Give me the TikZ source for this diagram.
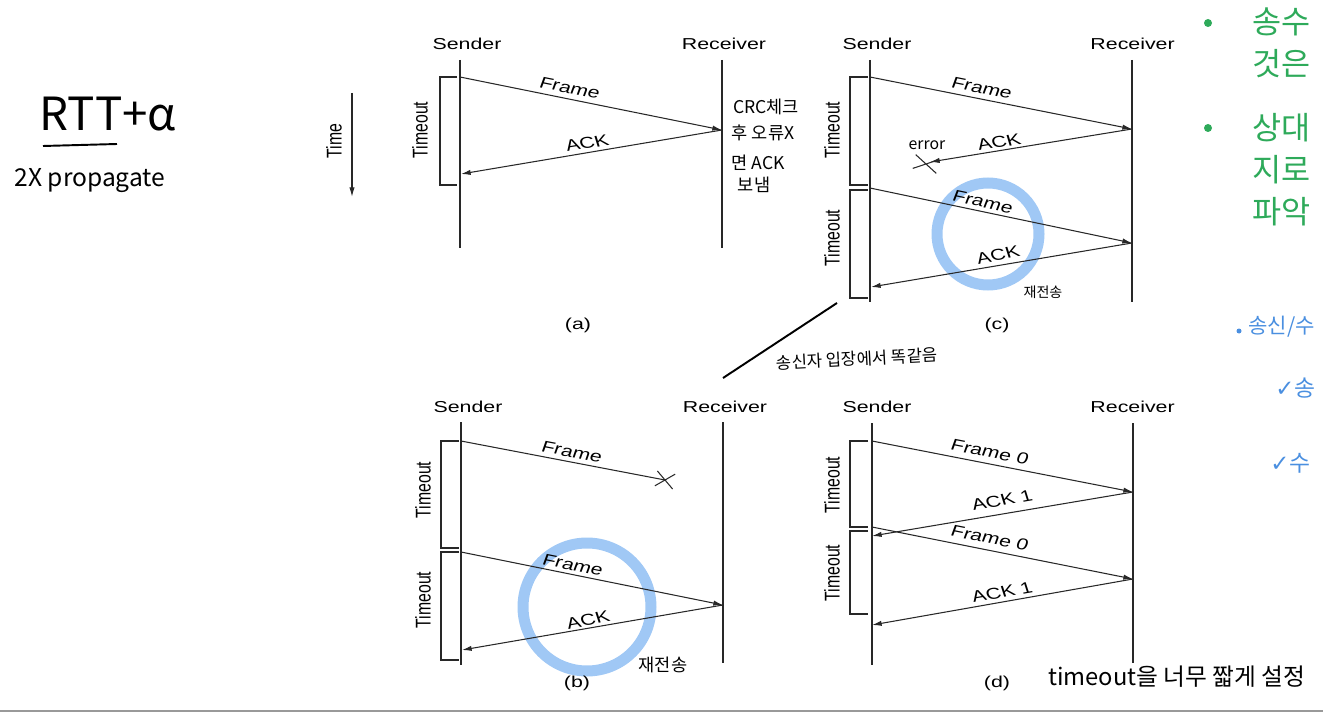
\documentclass[tikz,border=0pt]{standalone}
\usepackage{fontspec}
\setmainfont{Liberation Sans}
\newfontfamily\hwfont{Noto Sans CJK KR}
\newfontfamily\symfont{DejaVu Sans}
\usepackage{tikz}
\usetikzlibrary{arrows.meta, shapes.misc}
\definecolor{ringblue}{RGB}{160,200,245}
\definecolor{notegreen}{RGB}{46,170,90}
\definecolor{penblue}{RGB}{74,143,224}
\definecolor{inkgray}{RGB}{40,40,40}

\begin{document}
\begin{tikzpicture}[
    x=0.02cm, y=-0.02cm,
    who/.style={font=\fontsize{9}{10}\selectfont, xscale=1.35, inner sep=0pt},
    tout/.style={font=\fontsize{9}{10}\selectfont, xscale=1.35, rotate=90, inner sep=0pt},
    lbl/.style={font=\fontsize{9}{10}\selectfont, xscale=1.35, inner sep=0pt},
    life/.style={inkgray, line width=0.6pt},
    brk/.style={inkgray, line width=0.6pt},
    msg/.style={-{Latex[length=5.5pt,width=3pt]}, inkgray, line width=0.6pt},
    lost/.style={inkgray, line width=0.6pt},
    xmark/.style={cross out, draw=inkgray, line width=0.6pt, inner sep=0pt},
    ring/.style={ringblue, line width=0.22cm},
    pen/.style={font=\hwfont\fontsize{#1}{#1}\selectfont, inner sep=0pt},
    pen/.default=11
]
    \useasboundingbox (0,0) rectangle (1323,713);
    \clip (0,0) rectangle (1323,713);
    % blue rings (under the diagrams)
    \draw[ring] (988,234) circle [radius=51];
    \draw[ring] (587,607) circle [radius=64];
    % handwritten notes, left
    \node[pen=26] (rtt) at (108,114) {RTT+α};
    \draw[line width=1.1pt] (43,146) -- (117,144);
    \node[pen=14] (prop) at (90,181) {2X propagate};
    % Time axis
    \coordinate (t0) at (352,93);
    \coordinate (t1) at (352,197);
    \draw[msg] (t0) -- (t1);
    \node[lbl, rotate=90] (time) at (334,141) {Time};
    % Panel (a)
    \node[who] (aS) at (467,44) {Sender};
    \node[who] (aR) at (724,44) {Receiver};
    \draw[life] (460,60) -- (460,248);
    \draw[life] (722,60) -- (722,248);
    \draw[brk] (457,77) -- (440,77) -- (440,185) -- (457,185);
    \node[tout] (aT) at (420,130) {Timeout};
    \coordinate (aF0) at (460,77);
    \coordinate (aF1) at (722,130);
    \coordinate (aA1) at (461,174);
    \draw[msg] (aF0) -- (aF1);
    \draw[msg] (aF1) -- (aA1);
    \node[lbl, rotate=-15.2] (aFl) at (570,88) {Frame};
    \node[lbl, rotate=12.9] (aAl) at (587,143) {ACK};
    \node[lbl] (aCap) at (578,325) {(a)};
    \node[pen=10] (crc1) at (766,107) {CRC체크};
    \node[pen=10] (crc2) at (763,133) {후 오류X};
    \node[pen=10] (crc3) at (758,163) {면 ACK};
    \node[pen=10] (crc4) at (754,185) {보냄};
    % Panel (c)
    \node[who] (cS) at (877,44) {Sender};
    \begin{scope}
        \clip (800,0) rectangle (1177,100);
        \node[who, anchor=west] (cR) at (1090,44) {Receiver};
    \end{scope}
    \draw[life] (870,60) -- (870,302);
    \draw[life] (1132,60) -- (1132,302);
    \draw[brk] (868,77) -- (850,77) -- (850,185) -- (868,185);
    \draw[brk] (868,190) -- (850,190) -- (850,298) -- (868,298);
    \node[tout] (cT1) at (832,130) {Timeout};
    \node[tout] (cT2) at (832,238) {Timeout};
    \coordinate (cF0) at (870,77);
    \coordinate (cF1) at (1132,129);
    \coordinate (cA1) at (930,162);
    \coordinate (cF2) at (870,188);
    \coordinate (cF3) at (1132,243);
    \coordinate (cA2) at (871,287);
    \draw[msg] (cF0) -- (cF1);
    \draw[msg] (cF1) -- (cA1);
    \draw[msg] (cF2) -- (cF3);
    \draw[msg] (cF3) -- (cA2);
    \node[xmark, minimum width=0.46cm, minimum height=0.26cm, rotate=-12] (cX) at (926,164) {};
    \node[pen=9] (cErr) at (927,145) {error};
    \node[lbl, rotate=-15.0] (cFl1) at (982,88) {Frame};
    \node[lbl, rotate=12.5] (cAl1) at (999,142) {ACK};
    \node[lbl, rotate=-15.9] (cFl2) at (983,202) {Frame};
    \node[lbl, rotate=13.4] (cAl2) at (998,255) {ACK};
    \node[pen=8] (cRe) at (1043,292) {재전송};
    \node[lbl] (cCap) at (997,325) {(c)};
    % note between (c) and (b)
    \draw[line width=1.1pt] (723,378) -- (837,303);
    \node[pen=9.5, rotate=3] (same) at (857,359) {송신자 입장에서 똑같음};
    % Panel (b)
    \node[who] (bS) at (468,407) {Sender};
    \node[who] (bR) at (725,407) {Receiver};
    \draw[life] (461,422) -- (461,665);
    \draw[life] (723,422) -- (723,663);
    \draw[brk] (459,441) -- (441,441) -- (441,548) -- (459,548);
    \draw[brk] (459,552) -- (441,552) -- (441,660) -- (459,660);
    \node[tout] (bT1) at (423,490) {Timeout};
    \node[tout] (bT2) at (423,600) {Timeout};
    \coordinate (bF0) at (461,441);
    \node[xmark, minimum width=0.34cm, minimum height=0.28cm, rotate=-10] (bX) at (665,480) {};
    \coordinate (bF2) at (461,552);
    \coordinate (bF3) at (723,605);
    \coordinate (bA1) at (462,650);
    \draw[lost] (bF0) -- (bX.center);
    \draw[msg] (bF2) -- (bF3);
    \draw[msg] (bF3) -- (bA1);
    \node[lbl, rotate=-14.4] (bFl1) at (572,452) {Frame};
    \node[lbl, rotate=-15.2] (bFl2) at (573,565) {Frame};
    \node[lbl, rotate=13.4] (bAl) at (588,620) {ACK};
    \node[pen=10] (bRe) at (663,665) {재전송};
    \node[lbl] (bCap) at (577,683) {(b)};
    % Panel (d)
    \node[who] (dS) at (877,407) {Sender};
    \begin{scope}
        \clip (800,380) rectangle (1177,440);
        \node[who, anchor=west] (dR) at (1090,407) {Receiver};
    \end{scope}
    \draw[life] (872,423) -- (872,665);
    \draw[life] (1133,423) -- (1133,663);
    \draw[brk] (868,441) -- (850,441) -- (850,527) -- (868,527);
    \draw[brk] (868,531) -- (850,531) -- (850,614) -- (868,614);
    \node[tout] (dT1) at (832,485) {Timeout};
    \node[tout] (dT2) at (832,573) {Timeout};
    \coordinate (dF0) at (872,441);
    \coordinate (dF1) at (1133,492);
    \coordinate (dA1) at (872,536);
    \coordinate (dF2) at (872,527);
    \coordinate (dF3) at (1133,579);
    \coordinate (dA2) at (872,625);
    \draw[msg] (dF0) -- (dF1);
    \draw[msg] (dF1) -- (dA1);
    \draw[msg] (dF2) -- (dF3);
    \draw[msg] (dF3) -- (dA2);
    \node[lbl, rotate=-14.8] (dFl1) at (990,452) {Frame 0};
    \node[lbl, rotate=12.9] (dAl1) at (1002,500) {ACK 1};
    \node[lbl, rotate=-15.1] (dFl2) at (990,538) {Frame 0};
    \node[lbl, rotate=13.4] (dAl2) at (1002,592) {ACK 1};
    \node[lbl] (dCap) at (997,683) {(d)};
    \node[pen=13.5, anchor=west] (short) at (1048,677) {timeout을 너무 짧게 설정};
    % green slide text, right
    \fill[notegreen] (1208,23) circle [radius=4];
    \fill[notegreen] (1208,128) circle [radius=4];
    \node[pen=18, text=notegreen, anchor=west] (g1) at (1252,22) {송수};
    \node[pen=18, text=notegreen, anchor=west] (g2) at (1252,64) {것은};
    \node[pen=18, text=notegreen, anchor=west] (g3) at (1252,128) {상대};
    \node[pen=18, text=notegreen, anchor=west] (g4) at (1252,170) {지로};
    \node[pen=18, text=notegreen, anchor=west] (g5) at (1252,212) {파악};
    % blue pen notes, right
    \fill[penblue] (1239,331) circle [radius=2.5];
    \node[pen=12, text=penblue, anchor=west] (p1) at (1248,327) {송신/수};
    \node[pen=13, text=penblue, anchor=west] (p2) at (1275,388) {{\symfont ✓}송};
    \node[pen=13, text=penblue, anchor=west] (p3) at (1270,463) {{\symfont ✓}수};
    % bottom edge of the screenshot
    \draw[gray!80, line width=0.04cm] (0,711) -- (1323,711);
\end{tikzpicture}
\end{document}
